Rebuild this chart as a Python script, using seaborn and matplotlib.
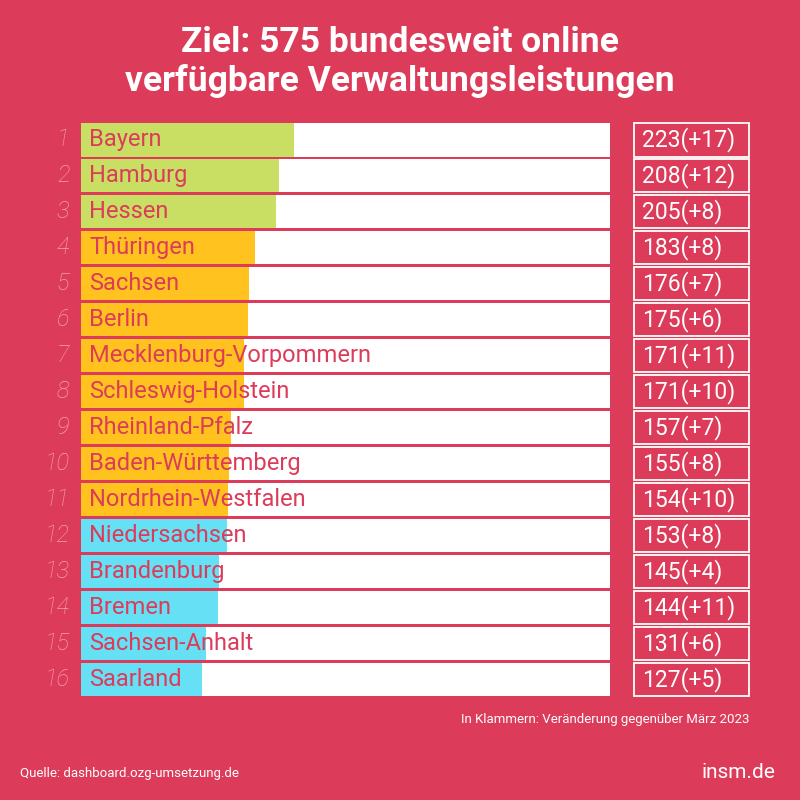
import matplotlib.pyplot as plt
import matplotlib.transforms as mtransforms
from matplotlib.patches import Rectangle
import pandas as pd
import seaborn as sns

states = ["Bayern", "Hamburg", "Hessen", "Thüringen", "Sachsen", "Berlin",
          "Mecklenburg-Vorpommern", "Schleswig-Holstein", "Rheinland-Pfalz",
          "Baden-Württemberg", "Nordrhein-Westfalen", "Niedersachsen",
          "Brandenburg", "Bremen", "Sachsen-Anhalt", "Saarland"]
values = [223, 208, 205, 183, 176, 175, 171, 171, 157, 155, 154, 153, 145, 144, 131, 127]
changes = [17, 12, 8, 8, 7, 6, 11, 10, 7, 8, 10, 8, 4, 11, 6, 5]
groups = ["top"] * 3 + ["mid"] * 8 + ["low"] * 5

BG = "#DC3C5A"
palette = {"top": "#C8DF64", "mid": "#FFC21F", "low": "#66E0F5"}
plt.rcParams["font.family"] = "Roboto"

df = pd.DataFrame({"state": states, "value": values, "group": groups})
XMAX = 555

fig = plt.figure(figsize=(8, 8), dpi=100, facecolor=BG)
ax = fig.add_axes([81 / 800, 1 - 697 / 800, 529 / 800, 575 / 800])
ax.set_facecolor(BG)

sns.barplot(x=[XMAX] * len(states), y=states, color="white", width=0.92,
            orient="h", ax=ax, saturation=1)
sns.barplot(data=df, x="value", y="state", hue="group", palette=palette,
            width=0.92, orient="h", dodge=False, legend=False, ax=ax, saturation=1)
ax.set_xlim(0, XMAX)
ax.set_ylim(len(states) - 0.5, -0.5)
ax.axis("off")

tr = mtransforms.blended_transform_factory(ax.transAxes, ax.transData)
for i, (s, v, c) in enumerate(zip(states, values, changes)):
    ax.text(0.016, i, s, transform=tr, va="center", ha="left",
            fontsize=17, color=BG)
    ax.text(-0.022, i, str(i + 1), transform=tr, va="center", ha="right",
            fontsize=17, color="#F5A0B0", style="italic", fontweight="light")
    ax.add_patch(Rectangle((553 / 529, i - 0.46), 115 / 529, 0.92, transform=tr,
                           fill=False, edgecolor="white", lw=1.3, clip_on=False))
    ax.text(561 / 529, i, f"{v}(+{c})", transform=tr, va="center", ha="left",
            fontsize=16.5, color="white")

fig.text(0.5, 0.947, "Ziel: 575 bundesweit online", ha="center", va="center",
         fontsize=25.5, fontweight="bold", color="white")
fig.text(0.5, 0.899, "verfügbare Verwaltungsleistungen", ha="center", va="center",
         fontsize=25.5, fontweight="bold", color="white")
fig.text(749 / 800, 1 - 720 / 800, "In Klammern: Veränderung gegenüber März 2023",
         ha="right", va="center", fontsize=9.5, color="white")
fig.text(20 / 800, 1 - 773 / 800, "Quelle: dashboard.ozg-umsetzung.de",
         ha="left", va="center", fontsize=9.5, color="white")
fig.text(775 / 800, 1 - 773 / 800, "insm.de", ha="right", va="center",
         fontsize=15, color="white")

fig.savefig("out.png", dpi=100, facecolor=BG)
